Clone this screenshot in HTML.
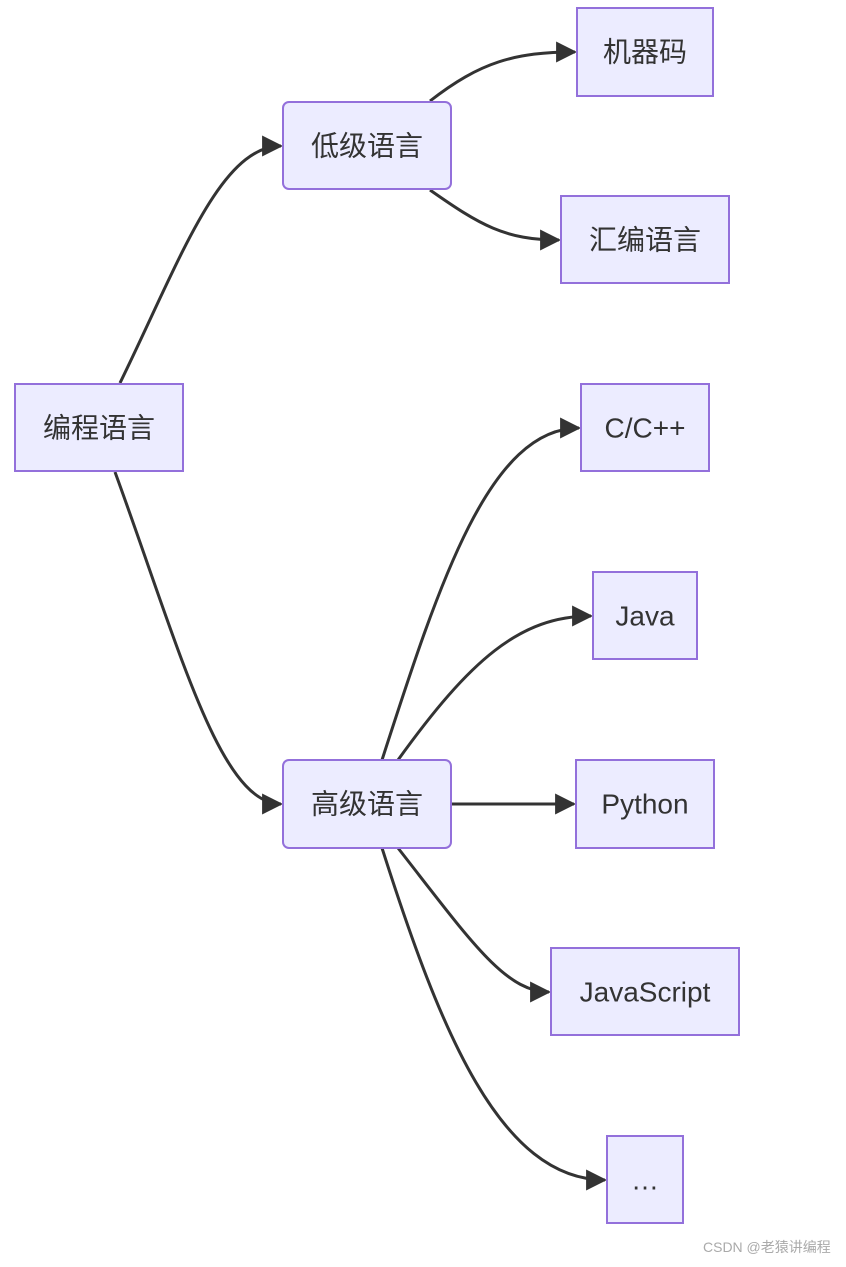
<!DOCTYPE html>
<html><head><meta charset="utf-8"><style>
html,body{margin:0;padding:0;background:#fff;}
svg text{font-family:"Liberation Sans","Noto Sans CJK SC",sans-serif;fill:#333;}
</style></head><body>
<svg width="846" height="1262" viewBox="0 0 846 1262" xmlns="http://www.w3.org/2000/svg">
<defs>
<marker id="a" viewBox="0 0 10 10" refX="9" refY="5" markerWidth="7" markerHeight="7" markerUnits="strokeWidth" orient="auto">
<path d="M0,0 L10,5 L0,10 z" fill="#333"/></marker>
</defs>
<g fill="none" stroke="#333" stroke-width="3" marker-end="url(#a)">
<path d="M120,383 C180,260 220,146 281,146"/>
<path d="M115,472 C180,650 220,804 281,804"/>
<path d="M430,101 C480,62 515,52 575,52"/>
<path d="M430,190 C480,225 505,240 559,240"/>
<path d="M382,760 C440,580 490,428 579,428"/>
<path d="M398,760 C470,660 520,616 591,616"/>
<path d="M451,804 L574,804"/>
<path d="M398,848 C470,940 505,992 549,992"/>
<path d="M382,848 C440,1030 500,1180 605,1180"/>
</g>
<g fill="#ECECFF" stroke="#9370DB" stroke-width="2">
<rect x="15" y="384" width="168" height="87"/>
<rect x="283" y="102" width="168" height="87" rx="6"/>
<rect x="283" y="760" width="168" height="88" rx="6"/>
<rect x="577" y="8" width="136" height="88"/>
<rect x="561" y="196" width="168" height="87"/>
<rect x="581" y="384" width="128" height="87"/>
<rect x="593" y="572" width="104" height="87"/>
<rect x="576" y="760" width="138" height="88"/>
<rect x="551" y="948" width="188" height="87"/>
<rect x="607" y="1136" width="76" height="87"/>
</g>
<g font-size="28" text-anchor="middle" dominant-baseline="central">
<text x="99" y="428">编程语言</text>
<text x="367" y="146">低级语言</text>
<text x="367" y="804">高级语言</text>
<text x="645" y="52">机器码</text>
<text x="645" y="240">汇编语言</text>
<text x="645" y="428">C/C++</text>
<text x="645" y="616">Java</text>
<text x="645" y="804">Python</text>
<text x="645" y="992">JavaScript</text>
<text x="645" y="1180">…</text>
</g>
<text x="703" y="1252" font-size="14" style="fill:#aaa">CSDN @老猿讲编程</text>
</svg>
</body></html>
